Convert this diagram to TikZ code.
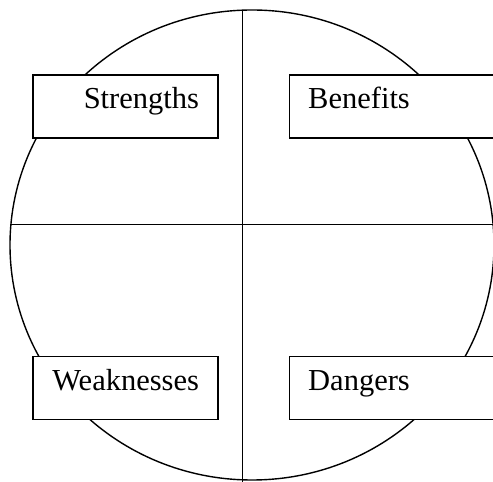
\documentclass[tikz,border=0pt]{standalone}
\usepackage{fontspec}
\setmainfont{Liberation Serif}
\usepackage{tikz}
\usetikzlibrary{positioning}

\begin{document}
\begin{tikzpicture}[
      x=1pt, y=1pt,
      node distance=217pt and 70pt,
      label/.style={draw, line width=1.2pt, fill=white, inner ysep=0pt,
                    inner xsep=19pt, minimum height=63pt, text height=20pt,
                    text depth=15pt, font=\fontsize{30.5}{34}\selectfont},
      leftbox/.style={label, text width=147pt, align=right},
      rightbox/.style={label, text width=202pt, align=left},
      axis/.style={line width=1pt}
    ]
    \useasboundingbox (0,0) rectangle (493,482);

    %% circle and the two axes
    \draw[line width=1.4pt] (252,237) ellipse (242 and 235);
    \draw[axis] (242,472) -- (242,-5);
    \draw[axis] (11,257) -- (500,257);

    %% quadrant labels
    \node[leftbox] (strengths) at (125.5,375.5) {Strengths};
    \node[rightbox, right=of strengths] (benefits) {Benefits};
    \node[leftbox, below=of strengths] (weaknesses) {Weaknesses};
    \node[rightbox, right=of weaknesses] (dangers) {Dangers};
\end{tikzpicture}
\end{document}
